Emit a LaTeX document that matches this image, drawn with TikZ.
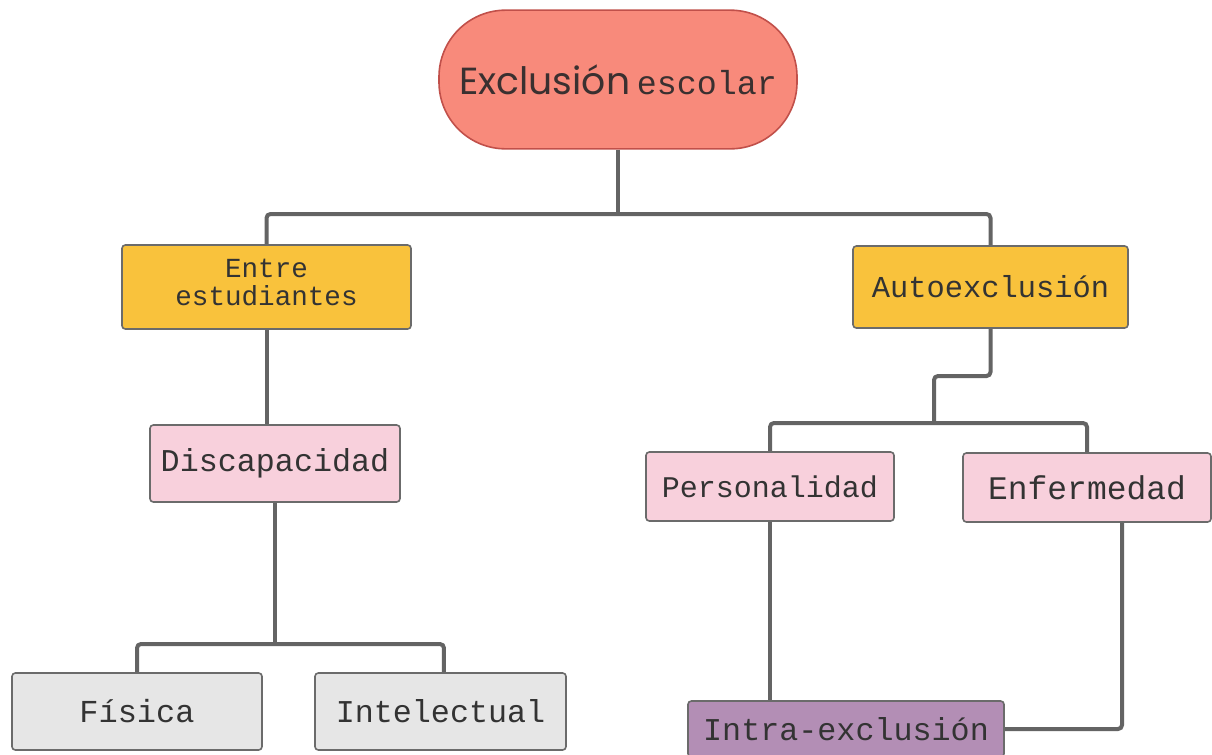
\documentclass[tikz,border=0pt]{standalone}
\usepackage{fontspec}
\setmonofont{Liberation Mono}
\newfontfamily\titlesans{Poppins}
\definecolor{salmon}{HTML}{F88A7B}
\definecolor{salmonb}{HTML}{C1504A}
\definecolor{yel}{HTML}{F9C23C}
\definecolor{pnk}{HTML}{F8D0DC}
\definecolor{gry}{HTML}{E6E6E6}
\definecolor{purp}{HTML}{B38EB5}
\definecolor{boxb}{HTML}{6B6B6B}
\definecolor{linec}{HTML}{646464}
\definecolor{txt}{HTML}{333333}
\definecolor{ttxt}{HTML}{3A3030}
\tikzset{
  box/.style={draw=boxb, line width=1.2pt, rounded corners=2.5pt, inner sep=0pt, text=txt, align=center, font=\ttfamily},
  conn/.style={draw=linec, line width=3pt, rounded corners=3pt},
}
\begin{document}
\begin{tikzpicture}[x=0.75pt, y=-0.75pt]
\useasboundingbox[fill=white] (0,0) rectangle (1212,754);
% nodes
\node[box, draw=salmonb, fill=salmon, text=ttxt, rounded corners=50pt, minimum width=268.5pt, minimum height=104pt] (title) at (618,79.5)
  {{\titlesans\fontsize{28.3}{32}\selectfont Exclusión}\hspace{5pt}{\ttfamily\fontsize{25}{30}\selectfont escolar}};
\node[box, fill=yel, minimum width=216.75pt, minimum height=63pt, font=\ttfamily\fontsize{20.7}{21}\selectfont] (entre) at (266.5,287) {Entre\\estudiantes\\[-13.5pt]\mbox{}};
\node[box, fill=yel, minimum width=206.25pt, minimum height=61.5pt, font=\ttfamily\fontsize{22.8}{26}\selectfont] (auto) at (990.5,287) {Autoexclusión};
\node[box, fill=pnk, minimum width=187.5pt, minimum height=57.75pt, font=\ttfamily\fontsize{23.8}{26}\selectfont] (disc) at (275,463.5) {Discapacidad};
\node[box, fill=pnk, minimum width=186pt, minimum height=51.75pt, font=\ttfamily\fontsize{22.5}{26}\selectfont] (pers) at (770,486.5) {Personalidad};
\node[box, fill=pnk, minimum width=186pt, minimum height=51.75pt, font=\ttfamily\fontsize{24.7}{26}\selectfont] (enf) at (1087,487.5) {Enfermedad};
\node[box, fill=gry, minimum width=187.5pt, minimum height=57.75pt, font=\ttfamily\fontsize{24}{26}\selectfont] (fis) at (137,711.5) {Física};
\node[box, fill=gry, minimum width=188.25pt, minimum height=57.75pt, font=\ttfamily\fontsize{23.8}{26}\selectfont] (intel) at (440.5,711.5) {Intelectual};
\node[box, fill=purp, minimum width=237pt, minimum height=42pt, font=\ttfamily\fontsize{23.8}{26}\selectfont] (intra) at (846,729) {Intra-exclusión};
% junction coordinates
\coordinate (b1) at (618,214);
\coordinate (b2) at (275,644);
\coordinate (k1) at (934,376);
\coordinate (b3) at (934,423);
% connectors
\draw[conn] (title.south) -- (b1);
\draw[conn] (entre.north) |- (b1) -| (auto.north);
\draw[conn] (entre.south) -- (entre.south |- disc.north);
\draw[conn] (disc.south) -- (b2);
\draw[conn] (fis.north) |- (b2) -| ([xshift=2.6pt]intel.north);
\draw[conn] (auto.south) |- (k1) -- (b3);
\draw[conn] (pers.north) |- (b3) -| (enf.north);
\draw[conn] (pers.south) -- (pers.south |- intra.north);
\draw[conn] ([xshift=26.25pt]enf.south) |- (intra.east);
\end{tikzpicture}
\end{document}
